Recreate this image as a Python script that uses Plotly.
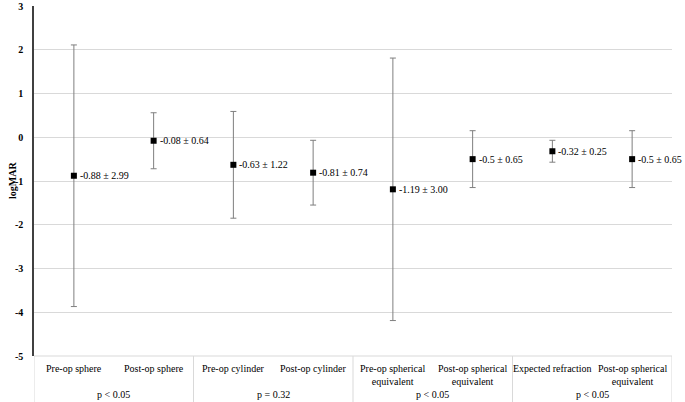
import plotly.graph_objects as go

categories = ["Pre-op sphere", "Post-op sphere", "Pre-op cylinder", "Post-op cylinder",
              "Pre-op spherical<br>equivalent", "Post-op spherical<br>equivalent",
              "Expected refraction", "Post-op spherical<br>equivalent"]
means = [-0.88, -0.08, -0.63, -0.81, -1.19, -0.5, -0.32, -0.5]
sds = [2.99, 0.64, 1.22, 0.74, 3.00, 0.65, 0.25, 0.65]
value_labels = ["-0.88 ± 2.99", "-0.08 ± 0.64", "-0.63 ± 1.22", "-0.81 ± 0.74",
                "-1.19 ± 3.00", "-0.5 ± 0.65", "-0.32 ± 0.25", "-0.5 ± 0.65"]
groups = ["p < 0.05", "p = 0.32", "p < 0.05", "p < 0.05"]
y_ticks = [3, 2, 1, 0, -1, -2, -3, -4, -5]
y_tick_text = ["3", "2", "1", "0", "-1", "-2", "-3", "-4", "-5"]

FONT = "'Liberation Serif', 'Times New Roman', serif"
xs = list(range(len(categories)))

fig = go.Figure()
fig.add_trace(go.Scatter(
    x=xs, y=means, mode="markers",
    marker=dict(symbol="square", size=6, color="black"),
    error_y=dict(type="data", array=sds, visible=True, color="#7f7f7f",
                 thickness=1, width=3),
    showlegend=False,
))

for x, y, t in zip(xs, means, value_labels):
    fig.add_annotation(x=x, y=y, text=t, showarrow=False, xanchor="left",
                       xshift=4, yanchor="middle",
                       font=dict(family=FONT, size=10, color="black"))

# category labels
for x, c in zip(xs, categories):
    fig.add_annotation(x=x, y=0, yref="paper", text=c, showarrow=False,
                       yanchor="top", yshift=-5, align="center",
                       font=dict(family=FONT, size=10, color="black"))

# group labels and separators
n_per = len(categories) // len(groups)
for i, g in enumerate(groups):
    center = i * n_per + (n_per - 1) / 2
    fig.add_annotation(x=center, y=0, yref="paper", text=g, showarrow=False,
                       yanchor="top", yshift=-31,
                       font=dict(family=FONT, size=10, color="black"))
for i in range(len(groups) + 1):
    fig.add_shape(type="line", x0=i * n_per - 0.5, x1=i * n_per - 0.5,
                  y0=0, y1=-0.14, xref="x", yref="paper",
                  line=dict(color="#d9d9d9", width=1))
fig.add_shape(type="line", x0=0, x1=1, y0=0, y1=0, xref="paper", yref="paper",
              line=dict(color="#d9d9d9", width=1))

# y-axis title
fig.add_annotation(x=0, y=0.5, xref="paper", yref="paper", text="<b>logMAR</b>",
                   showarrow=False, textangle=-90, xanchor="center", yanchor="middle",
                   xshift=-22, font=dict(family=FONT, size=10, color="black"))

fig.update_layout(
    width=685, height=402,
    margin=dict(l=34, r=13, t=6, b=46),
    paper_bgcolor="white", plot_bgcolor="white",
    font=dict(family=FONT),
    xaxis=dict(range=[-0.5, len(categories) - 0.5], showticklabels=False,
               showgrid=False, zeroline=False, showline=False, automargin=False),
    yaxis=dict(range=[-5, 3], tickvals=y_ticks, ticktext=y_tick_text, showgrid=True,
               gridcolor="#d9d9d9", gridwidth=1, zeroline=False,
               showline=True, linecolor="#404040", linewidth=1.5,
               ticks="", ticklabelstandoff=7, automargin=False,
               tickfont=dict(family=FONT, size=10, color="black", weight="bold")),
)

fig.write_html("out.html", config={"displayModeBar": False},
               post_script="document.body.style.margin='0';document.body.style.overflow='hidden';")
